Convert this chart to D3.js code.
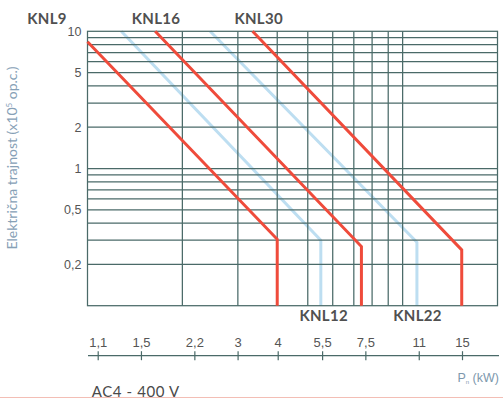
<!DOCTYPE html>
<html>
<head>
<meta charset="utf-8">
<script src="https://cdn.jsdelivr.net/npm/d3@7"></script>
<style>
  html, body { margin: 0; padding: 0; background: #fff; }
  svg { display: block; }
</style>
</head>
<body>
<svg id="chart" width="503" height="398"></svg>
<script>
// ---- data ----
const seriesNames = ["KNL9", "KNL12", "KNL16", "KNL22", "KNL30"];
const seriesKind  = ["red", "blue", "red", "blue", "red"];
// power Pn (kW) points of each curve
const knl9P  = [1.0, 4.0, 4.0];
const knl12P = [1.28, 5.5, 5.5];
const knl16P = [1.64, 7.4, 7.4];
const knl22P = [2.45, 11.1, 11.1];
const knl30P = [3.34, 15.4, 15.4];
// electrical durability (x10^5 op.c.)
const knl9D  = [8.4, 0.305, 0.1];
const knl12D = [10, 0.30, 0.1];
const knl16D = [10, 0.27, 0.1];
const knl22D = [10, 0.29, 0.1];
const knl30D = [10, 0.255, 0.1];

const pTicks = [1.1, 1.5, 2.2, 3, 4, 5.5, 7.5, 11, 15];
const pTickLabels = ["1,1", "1,5", "2,2", "3", "4", "5,5", "7,5", "11", "15"];
const yTicks = [10, 5, 2, 1, 0.5, 0.2];
const yTickLabels = ["10", "5", "2", "1", "0,5", "0,2"];
const gridP = [2, 3, 4, 5, 6, 7, 8, 9, 10];
const gridD = [0.2, 0.3, 0.4, 0.5, 0.6, 0.7, 0.8, 0.9, 1, 2, 3, 4, 5, 6, 7, 8, 9];

const yTitle = "Električna trajnost (x10";
const yTitleSup = "5";
const yTitleEnd = " op.c.)";
const footer = "AC4 - 400 V";

// ---- layout ----
const svg = d3.select("#chart");
const L = 87.5, R = 497.5, T = 31.3, B = 305.7;
const x = d3.scaleLog().domain([1, 20]).range([L, R]);
const y = d3.scaleLog().domain([0.1, 10]).range([B, T]);
const xAxisScale = d3.scaleLog().domain([1.1, 15]).range([97.7, 462]);

const RED = "#ef4b3b", BLUE = "#bddef1", GRID = "#4a6a68";

const seriesP = [knl9P, knl12P, knl16P, knl22P, knl30P];
const seriesD = [knl9D, knl12D, knl16D, knl22D, knl30D];
const series = seriesNames.map((n, i) => ({
  name: n, kind: seriesKind[i],
  pts: seriesP[i].map((p, j) => ({p, d: seriesD[i][j]}))
}));
const line = d3.line().x(d => x(d.p)).y(d => y(d.d));

// blue curves beneath grid
svg.append("g").selectAll("path")
  .data(series.filter(s => s.kind === "blue"))
  .join("path")
  .attr("d", s => line(s.pts))
  .attr("fill", "none").attr("stroke", BLUE).attr("stroke-width", 3)
  .attr("stroke-linejoin", "round");

// grid
const g = svg.append("g").attr("stroke", GRID).attr("stroke-width", 1.25);
g.selectAll("line.v").data(gridP).join("line").attr("class", "v")
  .attr("x1", d => x(d)).attr("x2", d => x(d)).attr("y1", T).attr("y2", B);
g.selectAll("line.h").data(gridD).join("line").attr("class", "h")
  .attr("x1", L).attr("x2", R).attr("y1", d => y(d)).attr("y2", d => y(d));
g.append("rect").attr("x", L).attr("y", T).attr("width", R - L).attr("height", B - T)
  .attr("fill", "none");

// red curves on top
svg.append("g").selectAll("path")
  .data(series.filter(s => s.kind === "red"))
  .join("path")
  .attr("d", s => line(s.pts))
  .attr("fill", "none").attr("stroke", RED).attr("stroke-width", 3)
  .attr("stroke-linejoin", "miter");

// y tick labels
const yAx = svg.append("g").attr("transform", `translate(${L},0)`)
  .call(d3.axisLeft(y).tickValues(yTicks).tickSize(0).tickPadding(6)
    .tickFormat((d, i) => yTickLabels[i]));
yAx.select(".domain").remove();
yAx.selectAll("text").attr("font-family", "'Liberation Sans Narrow', 'Liberation Sans', Arial, sans-serif")
  .attr("font-size", 12.5).attr("fill", "#555");

// bottom Pn axis
const axY = 355.7;
const xAx = svg.append("g").attr("transform", `translate(0,${axY})`)
  .call(d3.axisTop(xAxisScale).tickValues(pTicks).tickSize(0)
    .tickFormat((d, i) => pTickLabels[i]));
xAx.select(".domain").remove();
xAx.append("line").attr("x1", 88).attr("x2", 499).attr("y1", 0).attr("y2", 0)
  .attr("stroke", GRID).attr("stroke-width", 1.2);
xAx.selectAll(".tick line").attr("y1", -4.5).attr("y2", 4.5)
  .attr("stroke", GRID).attr("stroke-width", 1.2);
xAx.selectAll(".tick text").attr("y", -8.5).attr("dy", 0)
  .attr("font-family", "'Liberation Sans Narrow', 'Liberation Sans', Arial, sans-serif")
  .attr("font-size", 13).attr("fill", "#555");

// series labels
const lblFont = "Lato, 'Open Sans', sans-serif";
const topLabels = [["KNL9", 47, 24], ["KNL16", 156, 24], ["KNL30", 258.7, 24],
                   ["KNL12", 323.7, 320.7], ["KNL22", 417.5, 320.7]];
svg.append("g").selectAll("text").data(topLabels).join("text")
  .attr("x", d => d[1]).attr("y", d => d[2]).attr("text-anchor", "middle")
  .attr("font-family", lblFont).attr("font-weight", 700).attr("font-size", 15)
  .attr("letter-spacing", 0.3)
  .attr("fill", "#505050").text(d => d[0]);

// y title
const yt = svg.append("text")
  .attr("transform", "translate(17,158) rotate(-90)")
  .attr("text-anchor", "middle")
  .attr("font-family", lblFont).attr("font-size", 14).attr("fill", "#86a0b6");
yt.append("tspan").text(yTitle);
yt.append("tspan").attr("dy", -5).attr("font-size", 8).text(yTitleSup);
yt.append("tspan").attr("dy", 5).text(yTitleEnd);

// Pn (kW)
const pn = svg.append("text").attr("x", 499).attr("y", 381.7).attr("text-anchor", "end")
  .attr("font-family", "'Liberation Sans Narrow', 'Liberation Sans', Arial, sans-serif")
  .attr("font-size", 12.5).attr("fill", "#7d98ad");
pn.append("tspan").text("P");
pn.append("tspan").attr("dy", 2).attr("font-size", 6).text("n");
pn.append("tspan").attr("dy", -2).text(" (kW)");

// footer
svg.append("text").attr("x", 91.7).attr("y", 396.5)
  .attr("font-family", lblFont).attr("font-size", 15).attr("letter-spacing", 0.6)
  .attr("fill", "#4a4a4a").text(footer);

svg.append("line").attr("x1", 0).attr("x2", 503).attr("y1", 397.5).attr("y2", 397.5)
  .attr("stroke", "#f3beb5").attr("stroke-width", 1);
</script>
</body>
</html>
